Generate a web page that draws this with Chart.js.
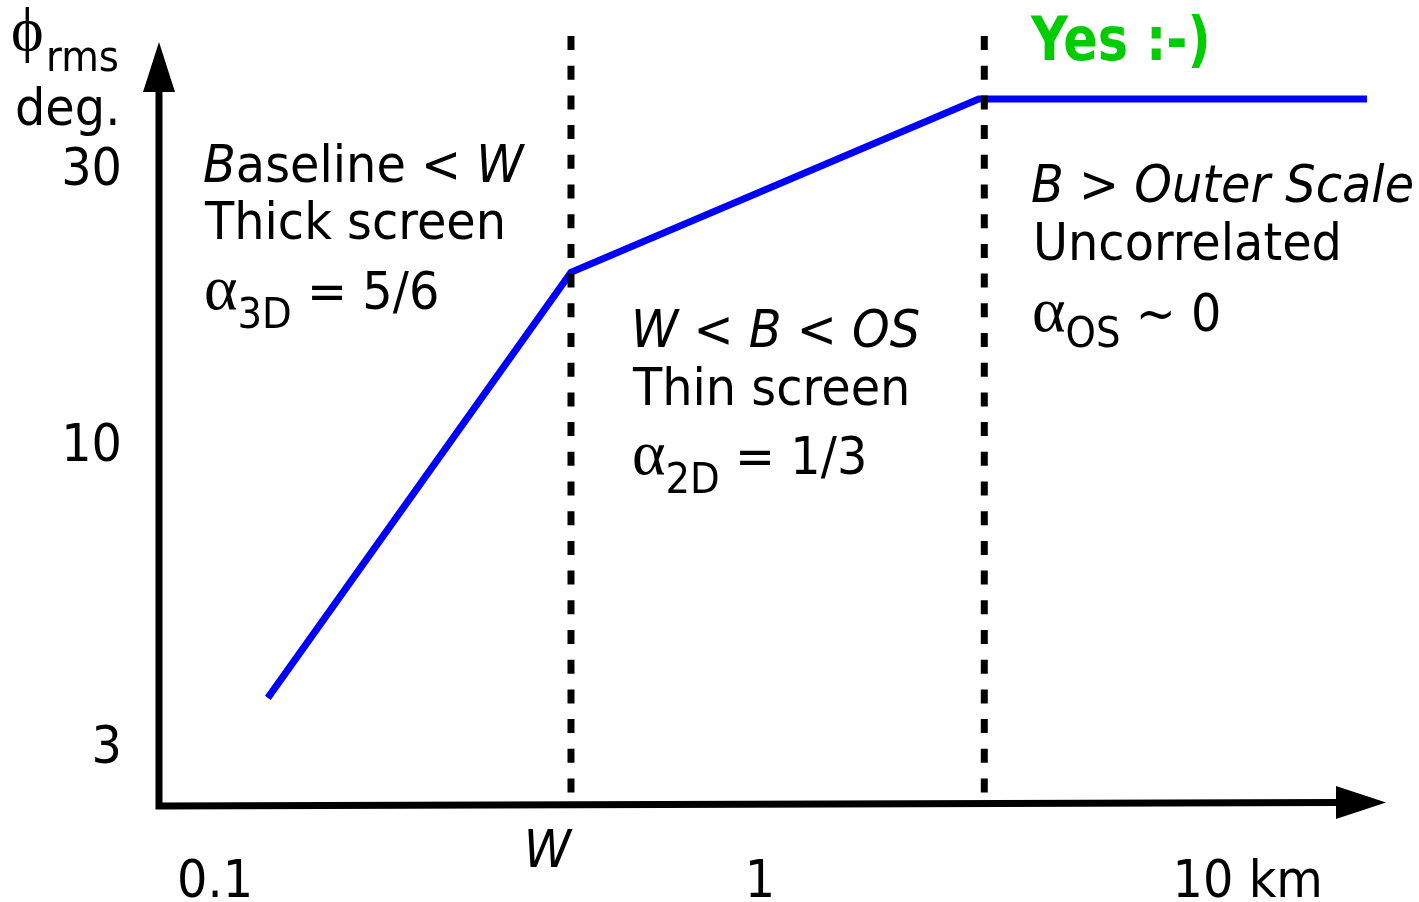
<!DOCTYPE html>
<html>
<head>
<meta charset="utf-8">
<script src="https://cdn.jsdelivr.net/npm/chart.js@4.4.1/dist/chart.umd.min.js"></script>
<style>
  html, body { margin: 0; padding: 0; background: #ffffff; }
  canvas { display: block; }
</style>
</head>
<body>
<canvas id="phaseChart" width="1419" height="902"></canvas>
<script>
// Break points of the phase structure function (baseline in km, rms phase in degrees)
const baselineKm = [0.125, 0.45, 2.52, 13];
const phaseRmsDeg = [3.63, 19.8, 39.5, 39.5];

// Regime boundaries: screen thickness W and the outer scale
const regimeBoundsKm = [0.45, 2.58];
const boundSpanDeg = [2.48, 50.8];

// Axis ticks
const xTickValues = [0.1, 1, 10];
const xTickLabels = ['0.1', '1', '10 km'];
const yTickValues = [3, 10, 30];
const yTickLabels = ['3', '10', '30'];

// Scale ranges
const xRangeKm = [0.07892, 14.085];
const yRangeDeg = [2.359, 52.03];

const SANS = '"DejaVu Sans", "Noto Sans", sans-serif';
const SERIF = '"Liberation Serif", "DejaVu Serif", serif';
const F_REG = '52px ' + SANS;
const F_ITA = 'italic 52px ' + SANS;
const F_SUB = '42px ' + SANS;
const F_GRK = '64px ' + SERIF;
const SQUEEZE = 0.92;

// Draw a sequence of text runs on one baseline; each run may change font and offset
function drawRuns(ctx, x, y, parts) {
  for (const p of parts) {
    const sx = p.sx !== undefined ? p.sx : SQUEEZE;
    ctx.font = p.f;
    const w = ctx.measureText(p.t).width * sx;
    ctx.save();
    ctx.translate(x, y + (p.dy || 0));
    ctx.scale(sx, 1);
    ctx.fillText(p.t, 0, 0);
    ctx.restore();
    x += w;
  }
  return x;
}

function textWidth(ctx, font, t, sx) {
  ctx.font = font;
  return ctx.measureText(t).width * (sx !== undefined ? sx : SQUEEZE);
}

const sketchPlugin = {
  id: 'sketchAxes',
  afterDraw(chart) {
    const ctx = chart.ctx;
    const area = chart.chartArea;
    const xs = chart.scales.x;
    const ys = chart.scales.y;
    const x0 = area.left;
    const yb = area.bottom;
    const xEnd = area.right;
    const yTip = area.top + 12;

    ctx.save();
    ctx.fillStyle = '#000';
    ctx.strokeStyle = '#000';

    // Axes with arrow heads
    ctx.lineWidth = 7;
    ctx.lineJoin = 'miter';
    ctx.lineCap = 'butt';
    ctx.beginPath();
    ctx.moveTo(x0, yTip + 48);
    ctx.lineTo(x0, yb);
    ctx.lineTo(xEnd - 50, yb - 3.6);
    ctx.stroke();

    ctx.beginPath();
    ctx.moveTo(x0, yTip);
    ctx.lineTo(x0 - 16, yTip + 50);
    ctx.lineTo(x0 + 16, yTip + 50);
    ctx.closePath();
    ctx.fill();

    ctx.beginPath();
    ctx.moveTo(xEnd, yb - 3.5);
    ctx.lineTo(xEnd - 50, yb - 20);
    ctx.lineTo(xEnd - 50, yb + 13);
    ctx.closePath();
    ctx.fill();

    ctx.textBaseline = 'alphabetic';
    ctx.textAlign = 'left';

    // X tick labels
    xTickValues.forEach((v, i) => {
      const px = xs.getPixelForValue(v);
      const w = textWidth(ctx, F_REG, xTickLabels[i]);
      const last = i === xTickValues.length - 1;
      const left = last ? px - w + 18 : px - w / 2;
      drawRuns(ctx, left, 897, [{ t: xTickLabels[i], f: F_REG }]);
    });
    // W marker below the axis
    {
      const px = xs.getPixelForValue(regimeBoundsKm[0]);
      const w = textWidth(ctx, F_ITA, 'W');
      drawRuns(ctx, px - w, 867, [{ t: 'W', f: F_ITA }]);
    }

    // Y tick labels
    yTickValues.forEach((v, i) => {
      const py = ys.getPixelForValue(v);
      const w = textWidth(ctx, F_REG, yTickLabels[i]);
      drawRuns(ctx, 122 - w, py + 17, [{ t: yTickLabels[i], f: F_REG }]);
    });

    // Y axis title
    drawRuns(ctx, 11, 50, [{ t: 'ϕ', f: '62px ' + SERIF, sx: 1 }]);
    drawRuns(ctx, 46, 71, [{ t: 'rms', f: F_SUB }]);
    drawRuns(ctx, 15, 125, [{ t: 'deg.', f: F_REG }]);

    // Regime 1: thick screen
    drawRuns(ctx, 203, 182, [
      { t: 'B', f: F_ITA }, { t: 'aseline < ', f: F_REG }, { t: 'W', f: F_ITA }
    ]);
    drawRuns(ctx, 205, 239, [{ t: 'Thick screen', f: F_REG }]);
    drawRuns(ctx, 204, 309, [
      { t: 'α', f: F_GRK, sx: 1 }, { t: '3D', f: F_SUB, dy: 19 }, { t: ' = 5/6', f: F_REG }
    ]);

    // Regime 2: thin screen
    drawRuns(ctx, 631, 347, [
      { t: 'W', f: F_ITA }, { t: ' < ', f: F_REG }, { t: 'B', f: F_ITA },
      { t: ' < ', f: F_REG }, { t: 'OS', f: F_ITA }
    ]);
    drawRuns(ctx, 633, 405, [{ t: 'Thin screen', f: F_REG }]);
    drawRuns(ctx, 632, 474, [
      { t: 'α', f: F_GRK, sx: 1 }, { t: '2D', f: F_SUB, dy: 19 }, { t: ' = 1/3', f: F_REG }
    ]);

    // Regime 3: beyond the outer scale
    drawRuns(ctx, 1031, 202, [
      { t: 'B', f: F_ITA }, { t: ' > ', f: F_REG }, { t: 'Outer Scale', f: F_ITA }
    ]);
    drawRuns(ctx, 1033, 260, [{ t: 'Uncorrelated', f: F_REG }]);
    drawRuns(ctx, 1032, 331, [
      { t: 'α', f: F_GRK, sx: 1 }, { t: 'OS', f: F_SUB, dy: 16 }, { t: ' ~ 0', f: F_REG }
    ]);

    ctx.fillStyle = '#00cc00';
    drawRuns(ctx, 1031, 60, [{ t: 'Yes :-)', f: 'bold 60px ' + SANS, sx: 0.85 }]);

    ctx.restore();
  }
};

new Chart(document.getElementById('phaseChart'), {
  type: 'line',
  data: {
    datasets: [
      {
        data: baselineKm.map((b, i) => ({ x: b, y: phaseRmsDeg[i] })),
        borderColor: '#0000ff',
        borderWidth: 7,
        borderCapStyle: 'butt',
        borderJoinStyle: 'miter',
        pointRadius: 0,
        fill: false,
        tension: 0,
        order: 1
      },
      ...regimeBoundsKm.map(b => ({
        data: [{ x: b, y: boundSpanDeg[1] }, { x: b, y: boundSpanDeg[0] }],
        borderColor: '#000000',
        borderWidth: 7,
        borderDash: [14, 15.7],
        borderCapStyle: 'butt',
        pointRadius: 0,
        fill: false,
        tension: 0,
        order: 0
      }))
    ]
  },
  options: {
    responsive: false,
    animation: false,
    devicePixelRatio: 1,
    events: [],
    layout: { padding: { left: 159, right: 33, top: 30, bottom: 96 } },
    plugins: { legend: { display: false }, tooltip: { enabled: false } },
    scales: {
      x: { type: 'logarithmic', min: xRangeKm[0], max: xRangeKm[1], bounds: 'data', display: false },
      y: { type: 'logarithmic', min: yRangeDeg[0], max: yRangeDeg[1], bounds: 'data', display: false }
    }
  },
  plugins: [sketchPlugin]
});
</script>
</body>
</html>
